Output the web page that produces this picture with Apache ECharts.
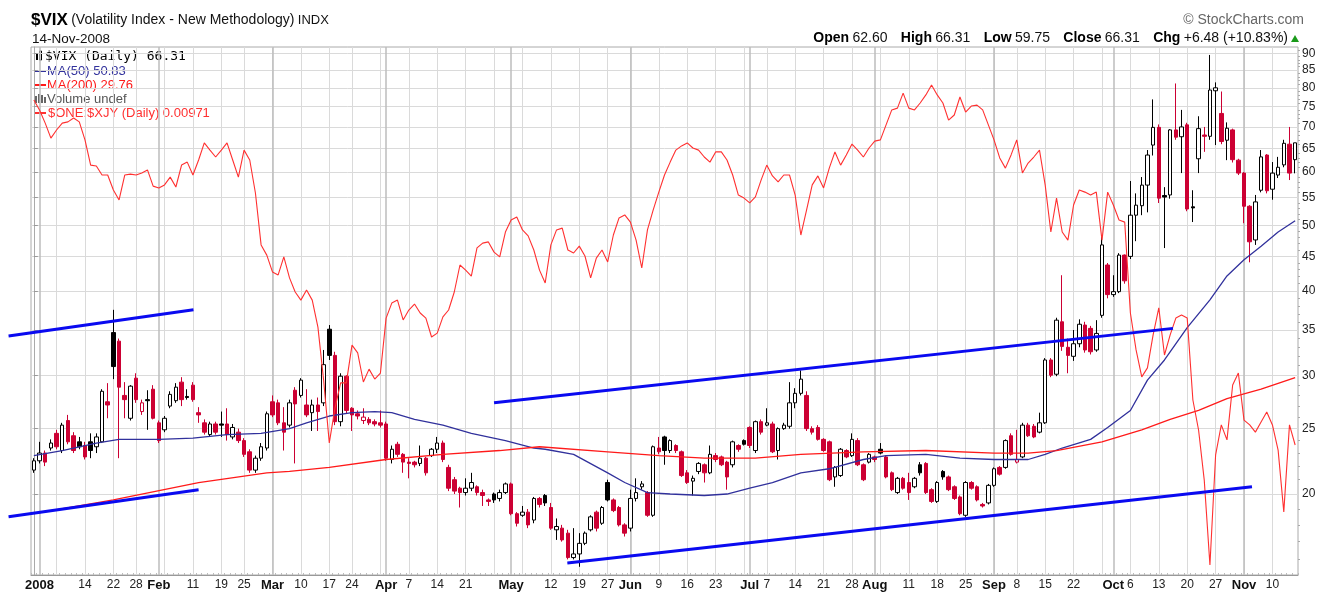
<!DOCTYPE html>
<html>
<head>
<meta charset="utf-8">
<title>$VIX daily 2008</title>
<script src="https://cdn.jsdelivr.net/npm/echarts@6/dist/echarts.min.js"></script>
<style>
html, body { margin: 0; padding: 0; background: #fff; }
#chart { width: 1323px; height: 592px; }
</style>
</head>
<body>
<div id="chart"></div>
<script>
// market holidays inside the range (no candle on these days)
const holidays = ['2008-01-01', '2008-01-21', '2008-02-18', '2008-03-21', '2008-05-26', '2008-07-04', '2008-09-01'];

// daily OHLC of $VIX, 2007-12-31 .. 2008-11-14
const openVals = [
  21.7,22.4,23.0,23.4,24.6,23.2,25.7,24.4,23.9,23.6, 23.9,23.5,23.9,27.4,34.7,33.7,28.0,25.9,29.7,26.5,
  27.6,28.6,25.5,24.9,27.0,27.5,29.3,27.9,29.0,26.4, 25.5,24.5,25.4,25.4,25.4,24.3,24.7,24.0,23.1,21.7,
  22.6,23.4,27.4,27.3,25.5,25.3,28.5,28.0,27.1,26.4, 27.1,27.3,35.1,32.1,25.6,29.9,26.8,26.3,25.7,25.8,
  25.6,25.5,25.4,22.5,23.7,22.9,22.3,22.3,22.2,22.6, 22.8,23.3,23.8,21.9,21.0,20.4,20.1,20.4,20.5,20.1,
  19.6,20.0,19.7,20.1,20.7,18.7,18.6,18.8,18.3,19.7, 19.9,19.1,17.7,17.8,17.5,16.1,16.3,16.9,17.7,18.8,
  18.1,20.8,19.6,19.1,18.0,17.8,19.7,20.5,20.1,18.6, 23.4,24.3,23.2,23.6,23.1,21.5,20.9,21.6,22.1,21.5,
  22.8,22.7,22.3,22.1,23.6,24.0,25.1,23.2,25.6,25.3, 25.4,23.2,25.0,25.2,27.3,28.2,28.0,25.0,25.1,24.1,
  23.9,21.2,21.3,23.2,22.8,24.0,22.1,22.3,22.7,23.3, 22.7,21.5,20.1,21.1,20.8,20.5,22.1,22.2,20.3,19.5,
  21.6,21.2,20.5,19.8,18.6,20.8,20.5,19.3,19.4,20.6, 21.9,21.9,24.4,22.3,22.7,25.3,25.2,24.7,25.5,31.6,
  30.1,36.0,33.0,32.0,33.4,35.6,35.2,32.7,36.8,43.7, 39.5,39.9,45.2,45.0,51.8,53.5,57.4,65.8,69.9,55.4,
  55.5,69.3,67.7,70.5,53.3,62.8,68.1,67.8,79.2,73.3, 66.9,69.3,62.5,59.8,53.4,47.6,56.4,63.6,56.6,59.4,
  61.5,66.0,62.60
];
const highVals = [
  22.6,23.9,23.2,24.1,24.9,25.5,26.2,24.7,24.3,23.9, 24.6,24.6,28.6,29.2,37.5,34.0,29.3,29.0,30.2,27.6,
  28.5,29.0,25.7,26.1,28.4,29.2,29.8,28.6,29.3,26.9, 25.8,25.6,25.6,26.5,26.8,25.4,25.0,24.2,23.3,22.8,
  23.8,26.5,28.0,27.6,26.9,27.6,28.8,29.7,28.6,27.6, 27.8,32.7,35.6,32.5,30.2,30.0,26.9,26.6,26.8,26.0,
  25.8,26.6,25.6,23.6,23.9,23.0,22.6,22.4,23.6,22.7, 23.4,24.3,24.0,22.1,21.2,20.5,21.1,21.5,20.6,20.3,
  19.7,20.1,20.3,20.8,20.8,18.8,19.2,19.0,19.8,19.8, 20.0,19.4,18.4,18.0,17.7,17.8,17.5,17.6,18.6,18.9,
  19.2,21.0,19.7,19.2,18.1,20.3,21.1,20.9,20.2,23.6, 24.3,24.4,24.1,23.7,23.2,21.7,21.3,22.3,22.2,23.6,
  23.0,22.8,22.4,24.0,23.7,24.1,25.2,25.7,25.8,26.8, 25.6,25.1,25.5,29.3,28.7,30.5,28.4,25.2,25.3,24.2,
  24.0,22.0,23.4,23.3,24.6,24.2,22.2,23.0,22.8,23.8, 22.8,21.6,21.2,21.2,21.5,21.2,22.3,22.3,20.4,20.9,
  21.7,21.3,20.6,19.9,20.9,20.9,20.6,19.4,20.7,21.9, 22.0,24.1,24.6,24.9,25.5,25.5,25.4,26.4,31.8,31.8,
  36.5,42.2,34.0,35.0,36.3,36.0,35.5,36.2,48.4,44.0, 42.2,45.5,45.3,58.2,55.8,59.0,64.7,76.9,70.6,57.0,
  69.5,81.2,74.2,71.0,56.4,72.6,70.0,89.5,81.5,79.0, 71.1,69.6,62.8,60.0,53.6,55.5,64.7,63.8,62.1,63.2,
  67.0,70.0,66.31
];
const lowVals = [
  21.5,22.2,22.0,23.2,23.3,23.0,23.7,23.0,23.3,22.5, 22.6,23.0,23.8,25.9,29.6,22.6,25.9,25.7,27.3,26.2,
  24.9,25.8,23.8,24.7,26.8,27.3,27.0,27.6,27.4,25.5, 24.5,24.3,24.5,24.3,24.0,24.1,23.8,22.7,21.5,21.5,
  22.4,23.2,26.0,25.3,23.2,25.1,22.2,27.8,26.0,24.8, 24.8,27.0,31.6,25.3,25.2,26.3,24.8,25.8,25.4,25.3,
  25.2,25.1,22.4,22.2,22.7,21.5,21.1,21.9,22.0,21.3, 22.7,23.0,22.3,20.2,20.0,19.1,19.9,20.2,19.9,19.2,
  19.2,19.4,19.5,20.0,18.6,17.9,18.5,17.8,18.1,19.1, 19.2,17.7,17.1,17.0,16.0,16.0,15.6,16.8,17.6,17.6,
  18.0,19.5,18.8,17.9,17.3,17.6,19.5,20.3,18.5,18.5, 22.9,22.1,23.0,23.0,21.2,20.7,19.9,21.4,20.8,21.4,
  22.3,22.0,20.3,21.9,23.1,23.6,23.4,23.0,24.5,25.2, 23.0,22.5,24.9,25.0,26.8,28.0,24.8,24.5,24.0,23.1,
  20.9,20.5,21.2,22.6,22.7,22.0,20.9,22.2,22.3,22.9, 21.1,20.2,20.0,20.3,19.6,20.4,21.3,20.0,19.4,19.4,
  21.0,20.2,19.6,18.6,18.5,20.3,19.5,19.1,19.3,20.5, 21.3,21.8,22.8,22.2,22.6,24.3,24.2,24.6,25.4,29.8,
  29.9,32.6,30.2,31.5,33.0,32.4,32.2,32.5,36.5,39.0, 39.2,39.7,41.0,44.6,47.4,51.8,52.3,63.5,54.0,46.3,
  54.8,67.0,59.8,52.5,50.6,59.8,64.3,67.0,65.8,66.0, 62.5,62.0,59.4,50.4,44.1,46.8,56.0,55.8,54.6,58.8,
  61.0,58.4,59.75
];
const closeVals = [
  22.4,23.0,22.3,23.8,23.5,25.3,23.9,23.2,23.5,22.7, 23.2,24.3,28.4,27.1,30.9,28.8,27.6,28.9,27.6,27.3,
  27.5,25.9,24.0,25.9,28.1,28.8,27.6,27.8,27.6,26.2, 24.7,25.4,24.7,25.3,24.5,25.1,24.0,22.9,21.7,22.6,
  23.5,26.3,26.2,25.5,24.7,27.3,27.2,29.5,26.2,27.1, 26.5,31.1,32.1,25.6,29.9,26.6,26.2,26.1,26.0,25.5,
  25.4,25.3,22.6,23.3,22.9,22.3,22.2,22.1,22.6,21.5, 23.3,23.8,22.5,20.4,20.2,20.1,20.4,20.8,20.1,19.9,
  19.5,19.6,20.1,20.7,18.7,18.1,18.8,18.0,19.7,19.3, 19.4,17.8,17.9,17.1,16.1,16.3,16.9,17.5,18.5,17.8,
  19.1,19.6,18.9,18.0,17.5,19.7,20.1,20.7,18.6,23.5, 23.1,23.2,24.0,23.2,21.3,20.8,21.1,22.2,21.5,22.9,
  22.5,22.1,21.2,23.9,23.3,23.7,23.6,25.6,24.7,25.5, 23.1,25.0,25.3,27.3,28.2,29.6,25.0,24.7,24.1,23.2,
  21.0,21.9,23.3,22.7,24.1,22.1,21.0,22.9,22.5,23.0, 21.2,20.3,21.1,20.4,20.1,21.1,21.5,20.1,19.5,20.8,
  21.2,20.3,19.7,18.7,20.8,20.4,19.6,19.2,20.6,21.8, 21.4,24.0,22.9,22.5,25.3,24.4,24.3,25.5,31.6,30.0,
  36.2,33.1,32.1,33.4,35.7,32.7,32.5,34.6,46.8,39.5, 39.9,45.2,41.4,51.8,53.6,57.4,63.6,69.9,54.9,55.1,
  69.3,67.6,70.0,52.9,53.1,69.6,67.8,79.4,80.0,66.6, 69.7,62.6,59.8,53.4,47.3,54.2,63.2,56.3,59.8,61.0,
  66.2,59.8,66.31
];

// moving averages, read at sample dates
const ma50Points = [
  ['2007-12-31',22.8],['2008-01-08',23.2],['2008-01-16',23.8],['2008-01-23',24.1],['2008-02-01',24.1],
  ['2008-02-11',24.2],['2008-02-20',24.5],['2008-02-28',24.6],['2008-03-06',25.0],['2008-03-11',25.5],
  ['2008-03-17',26.1],['2008-03-24',26.4],['2008-03-28',26.5],['2008-04-02',26.4],['2008-04-08',25.8],
  ['2008-04-15',25.3],['2008-04-22',24.6],['2008-04-30',24.0],['2008-05-07',23.4],['2008-05-09',23.3],
  ['2008-05-16',22.9],['2008-05-27',21.5],['2008-05-30',20.8],['2008-06-05',20.1],['2008-06-11',20.0],
  ['2008-06-19',19.9],['2008-06-25',20.0],['2008-07-01',20.4],['2008-07-08',20.8],['2008-07-15',21.5],
  ['2008-07-22',21.8],['2008-07-30',22.5],['2008-08-05',22.8],['2008-08-14',22.9],['2008-08-22',22.6],
  ['2008-09-02',22.5],['2008-09-10',22.5],['2008-09-15',22.9],['2008-09-18',23.4],['2008-09-25',24.1],
  ['2008-09-30',25.1],['2008-10-06',26.6],['2008-10-09',29.5],['2008-10-14',31.6],['2008-10-20',35.3],
  ['2008-10-24',38.8],['2008-10-29',42.1],['2008-11-03',44.5],['2008-11-06',46.6],['2008-11-11',48.9],
  ['2008-11-14',50.83]
];
const ma200Points = [
  ['2007-12-31',18.7],['2008-01-22',19.6],['2008-02-12',20.8],['2008-02-29',21.5],['2008-03-06',21.6],
  ['2008-03-17',21.9],['2008-04-01',22.5],['2008-04-15',22.9],['2008-04-29',23.2],['2008-05-08',23.5],
  ['2008-05-27',23.1],['2008-06-09',22.8],['2008-06-19',22.6],['2008-07-02',22.6],['2008-07-15',22.9],
  ['2008-07-30',23.1],['2008-08-14',23.2],['2008-09-02',23.0],['2008-09-10',23.0],['2008-09-17',23.2],
  ['2008-09-29',23.9],['2008-10-08',24.9],['2008-10-15',25.8],['2008-10-22',26.6],['2008-10-29',27.7],
  ['2008-11-06',28.6],['2008-11-14',29.76]
];

// $ONE:$XJY daily (own hidden scale)
const xjyVals = [
  0.010860,0.010827,0.010783,0.010733,0.010760,0.010783,0.010787,0.010800,0.010787,0.010727,
  0.010643,0.010640,0.010610,0.010610,0.010560,0.010527,0.010610,0.010613,0.010610,0.010617,
  0.010627,0.010573,0.010567,0.010577,0.010603,0.010570,0.010643,0.010653,0.010610,0.010660,
  0.010717,0.010693,0.010670,0.010693,0.010717,0.010660,0.010603,0.010693,0.010660,0.010550,
  0.010377,0.010343,0.010287,0.010277,0.010337,0.010267,0.010220,0.010193,0.010227,0.010193,
  0.010103,0.009927,0.009717,0.009833,0.009917,0.009917,0.010043,0.010017,0.009920,0.009963,
  0.009930,0.009950,0.010133,0.010183,0.010193,0.010127,0.010160,0.010180,0.010150,0.010133,
  0.010070,0.010083,0.010137,0.010160,0.010220,0.010310,0.010293,0.010273,0.010367,0.010383,
  0.010387,0.010353,0.010337,0.010420,0.010460,0.010470,0.010427,0.010407,0.010360,0.010293,
  0.010250,0.010377,0.010427,0.010433,0.010360,0.010350,0.010373,0.010340,0.010267,0.010333,
  0.010360,0.010320,0.010410,0.010467,0.010477,0.010453,0.010393,0.010300,0.010427,0.010493,
  0.010553,0.010610,0.010653,0.010693,0.010707,0.010717,0.010700,0.010693,0.010670,0.010653,
  0.010687,0.010687,0.010660,0.010610,0.010543,0.010533,0.010517,0.010537,0.010593,0.010643,
  0.010607,0.010587,0.010610,0.010610,0.010543,0.010410,0.010493,0.010577,0.010607,0.010567,
  0.010633,0.010687,0.010643,0.010677,0.010713,0.010693,0.010670,0.010700,0.010723,0.010727,
  0.010777,0.010827,0.010833,0.010883,0.010833,0.010827,0.010850,0.010877,0.010910,0.010877,
  0.010850,0.010793,0.010810,0.010870,0.010820,0.010840,0.010843,0.010827,0.010777,0.010727,
  0.010667,0.010633,0.010677,0.010727,0.010617,0.010650,0.010670,0.010693,0.010577,0.010420,
  0.010533,0.010420,0.010393,0.010510,0.010560,0.010553,0.010543,0.010553,0.010393,0.010553,
  0.010510,0.010460,0.010453,0.010150,0.010027,0.009937,0.009967,0.010077,0.010167,0.010010,
  0.010077,0.010133,0.010143,0.010133,0.009860,0.009760,0.009593,0.009310,0.009677,0.009777,
  0.009727,0.009910,0.009950,0.009793,0.009777,0.009753,0.009787,0.009820,0.009777,0.009693,
  0.009487,0.009777,0.009710
];

// hand drawn trend lines: [day index, value] end points
const trendLines = [
  [[-4.45, 34.3], [28.1, 37.5]],
  [[-4.45, 18.5], [29.0, 20.3]],
  [[81.0, 27.3], [200.5, 35.2]],
  [[93.9, 15.8], [214.4, 20.5]]
];

const yTicks = [20, 25, 30, 35, 40, 45, 50, 55, 60, 65, 70, 75, 80, 85, 90];
const xTickDates = ['2008-01-02','2008-01-14','2008-01-22','2008-01-28','2008-02-01','2008-02-11','2008-02-19',
  '2008-02-25','2008-03-03','2008-03-10','2008-03-17','2008-03-24','2008-04-01','2008-04-07','2008-04-14',
  '2008-04-21','2008-05-01','2008-05-12','2008-05-19','2008-05-27','2008-06-02','2008-06-09','2008-06-16',
  '2008-06-23','2008-07-01','2008-07-07','2008-07-14','2008-07-21','2008-07-28','2008-08-01','2008-08-11',
  '2008-08-18','2008-08-25','2008-09-02','2008-09-08','2008-09-15','2008-09-22','2008-10-01','2008-10-06',
  '2008-10-13','2008-10-20','2008-10-27','2008-11-03','2008-11-10'];
const monthNames = ['Jan','Feb','Mar','Apr','May','Jun','Jul','Aug','Sep','Oct','Nov','Dec'];

const yMin = 15.17, yMax = 91.96;
const xjyMin = 0.0092767, xjyMax = 0.0110367;
const RED = '#cc0033';
const GRID_LEFT = 31, GRID_RIGHT = 25, GRID_TOP = 47, GRID_BOTTOM = 17, WIDTH = 1323;

function tradingDays(from, to) {
  const out = [];
  const d = new Date(from + 'T00:00:00Z');
  const end = new Date(to + 'T00:00:00Z').getTime();
  while (d.getTime() <= end) {
    const s = d.toISOString().slice(0, 10);
    const wd = d.getUTCDay();
    if (wd !== 0 && wd !== 6 && holidays.indexOf(s) < 0) out.push(s);
    d.setUTCDate(d.getUTCDate() + 1);
  }
  return out;
}
const dates = tradingDays('2007-12-31', '2008-11-14');
const n = dates.length;
const band = (WIDTH - GRID_LEFT - GRID_RIGHT) / n;

function weekKey(s) {
  const d = new Date(s + 'T00:00:00Z');
  d.setUTCDate(d.getUTCDate() - ((d.getUTCDay() + 6) % 7));
  return d.toISOString().slice(0, 10);
}
const isWeekStart = i => i === 0 || weekKey(dates[i]) !== weekKey(dates[i - 1]);
const isMonthStart = i => i > 0 && dates[i].slice(5, 7) !== dates[i - 1].slice(5, 7);

const candleData = dates.map((d, i) => {
  const o = openVals[i], c = closeVals[i];
  const up = i === 0 || c >= closeVals[i - 1];
  const edge = up ? '#000' : RED;
  const body = c > o ? '#fff' : edge;
  return {
    value: [Math.log(o), Math.log(c), Math.log(lowVals[i]), Math.log(highVals[i])],
    itemStyle: { color: body, color0: body, borderColor: edge, borderColor0: edge, borderWidth: 1 }
  };
});

const halfSlots = Array.from({ length: 2 * n + 1 }, (_, k) => String(k));
function gridAxis(test, color, width) {
  return {
    type: 'category', data: halfSlots, boundaryGap: false, position: 'bottom',
    axisLine: { show: false }, axisTick: { show: false }, axisLabel: { show: false },
    splitLine: { show: true, interval: k => k % 2 === 1 && test((k - 1) / 2), lineStyle: { color: color, width: width } }
  };
}

const minorTicks = [];
for (let v = 16; v <= 91; v++) if (yTicks.indexOf(v) < 0) minorTicks.push(Math.log(v));

const font = 'Liberation Sans, Arial, sans-serif';
const chart = echarts.init(document.getElementById('chart'));

// trend lines live in a second, wider grid so they can run into the left margin
const trendSeries = trendLines.map(seg => ({
  type: 'line', xAxisIndex: 4, yAxisIndex: 3, symbol: 'none', silent: true, z: 6,
  lineStyle: { color: '#0a0af0', width: 3 },
  data: seg.map(p => [p[0], Math.log(p[1])])
}));

chart.setOption({
  animation: false,
  backgroundColor: '#fff',
  grid: [
    { left: GRID_LEFT, right: GRID_RIGHT, top: GRID_TOP, bottom: GRID_BOTTOM, show: true, borderColor: '#aaa', borderWidth: 1 },
    { left: 0, right: GRID_RIGHT, top: GRID_TOP, bottom: GRID_BOTTOM, show: false }
  ],
  xAxis: [
    {
      type: 'category', data: dates, boundaryGap: true,
      axisLine: { lineStyle: { color: '#999' } },
      axisTick: { show: true, interval: 0, inside: true, length: 2, lineStyle: { color: '#bbb' } },
      splitLine: { show: false },
      axisLabel: {
        interval: (idx, val) => xTickDates.indexOf(val) >= 0,
        margin: 4,
        color: '#111',
        formatter: val => {
          const i = dates.indexOf(val);
          if (isMonthStart(i)) {
            const m = +val.slice(5, 7) - 1;
            return '{m|' + (m === 0 ? val.slice(0, 4) : monthNames[m]) + '}';
          }
          return '{d|' + (+val.slice(8, 10)) + '}';
        },
        rich: {
          m: { fontFamily: font, fontWeight: 'bold', fontSize: 13, color: '#111' },
          d: { fontFamily: font, fontSize: 12, color: '#222' }
        }
      }
    },
    { type: 'value', min: -0.5, max: n - 0.5, show: false },
    gridAxis(isWeekStart, '#dadada', 1),
    gridAxis(isMonthStart, '#bdbdbd', 1.5),
    { type: 'value', gridIndex: 1, min: -0.5 - GRID_LEFT / band, max: n - 0.5, show: false }
  ],
  yAxis: [
    {
      type: 'value', position: 'right', min: Math.log(yMin), max: Math.log(yMax),
      axisLine: { show: true, lineStyle: { color: '#aaa' } },
      axisTick: { show: true, length: 4, customValues: yTicks.map(Math.log), lineStyle: { color: '#999' } },
      axisLabel: {
        customValues: yTicks.map(Math.log), margin: 4,
        formatter: v => String(Math.round(Math.exp(v))),
        fontFamily: font, fontSize: 12, color: '#222'
      },
      splitLine: { show: true, lineStyle: { color: '#dadada' } }
    },
    {
      type: 'value', position: 'right', min: Math.log(yMin), max: Math.log(yMax),
      axisLine: { show: false }, axisLabel: { show: false }, splitLine: { show: false },
      axisTick: { show: true, length: 2, customValues: minorTicks, lineStyle: { color: '#aaa' } }
    },
    { type: 'value', min: xjyMin, max: xjyMax, show: false },
    { type: 'value', gridIndex: 1, min: Math.log(yMin), max: Math.log(yMax), show: false }
  ],
  series: [
    {
      name: '$VIX', type: 'candlestick', xAxisIndex: 0, yAxisIndex: 0, barWidth: 4, z: 3,
      data: candleData
    },
    {
      name: 'MA(50)', type: 'line', xAxisIndex: 0, yAxisIndex: 0, symbol: 'none', connectNulls: true, z: 4,
      lineStyle: { color: '#31319c', width: 1.3 },
      data: ma50Points.map(p => [p[0], Math.log(p[1])])
    },
    {
      name: 'MA(200)', type: 'line', xAxisIndex: 0, yAxisIndex: 0, symbol: 'none', connectNulls: true, z: 4,
      lineStyle: { color: '#ff1a1a', width: 1.3 },
      data: ma200Points.map(p => [p[0], Math.log(p[1])])
    },
    {
      name: '$ONE:$XJY', type: 'line', xAxisIndex: 0, yAxisIndex: 2, symbol: 'none', z: 5,
      lineStyle: { color: '#ff3030', width: 1.1 },
      data: xjyVals
    }
  ].concat(trendSeries),
  graphic: [
    { type: 'text', x: 31, y: 20, style: {
      text: '{a|$VIX} {b|(Volatility Index - New Methodology)} {c|INDX}', textVerticalAlign: 'middle',
      rich: {
        a: { fontFamily: font, fontWeight: 'bold', fontSize: 17, fill: '#000' },
        b: { fontFamily: font, fontSize: 14, fill: '#111' },
        c: { fontFamily: font, fontSize: 13, fill: '#111' }
      } } },
    { type: 'text', x: 32, y: 39, style: { text: '14-Nov-2008', font: '13.5px ' + font, fill: '#111', textVerticalAlign: 'middle' } },
    { type: 'text', x: 1304, y: 20, style: { text: '\u00a9 StockCharts.com', font: '14px ' + font, fill: '#666', textAlign: 'right', textVerticalAlign: 'middle' } },
    { type: 'text', x: 1288, y: 38, style: {
      text: '{l|Open} {v|62.60}    {l|High} {v|66.31}    {l|Low} {v|59.75}    {l|Close} {v|66.31}    {l|Chg} {v|+6.48 (+10.83%)}',
      textAlign: 'right', textVerticalAlign: 'middle',
      rich: {
        l: { fontFamily: font, fontWeight: 'bold', fontSize: 14, fill: '#000' },
        v: { fontFamily: font, fontSize: 14, fill: '#111' }
      } } },
    { type: 'polygon', shape: { points: [[1291, 42], [1299, 42], [1295, 35]] }, style: { fill: '#1a9a1a' } },

    // legend inside the plot
    { type: 'rect', shape: { x: 36, y: 53, width: 2, height: 7 }, style: { fill: '#000' } },
    { type: 'rect', shape: { x: 39.5, y: 51, width: 2, height: 9 }, style: { fill: '#fff', stroke: '#000', lineWidth: 1 } },
    { type: 'text', x: 45, y: 57, style: { text: '$VIX (Daily) 66.31', font: '13px DejaVu Sans Mono, monospace', fill: '#000', textVerticalAlign: 'middle' } },
    { type: 'rect', shape: { x: 35, y: 70, width: 11, height: 2 }, style: { fill: '#31319c' } },
    { type: 'text', x: 47, y: 71, style: { text: 'MA(50) 50.83', font: '13px ' + font, fill: '#31319c', textVerticalAlign: 'middle' } },
    { type: 'rect', shape: { x: 35, y: 84, width: 11, height: 2 }, style: { fill: '#ff1a1a' } },
    { type: 'text', x: 47, y: 85, style: { text: 'MA(200) 29.76', font: '13px ' + font, fill: '#ff1a1a', textVerticalAlign: 'middle' } },
    { type: 'rect', shape: { x: 35, y: 96, width: 2, height: 7 }, style: { fill: '#666' } },
    { type: 'rect', shape: { x: 38, y: 94, width: 2, height: 9 }, style: { fill: '#666' } },
    { type: 'rect', shape: { x: 41, y: 95, width: 2, height: 8 }, style: { fill: '#666' } },
    { type: 'rect', shape: { x: 44, y: 97, width: 2, height: 6 }, style: { fill: '#666' } },
    { type: 'text', x: 47, y: 99, style: { text: 'Volume undef', font: '13px ' + font, fill: '#555', textVerticalAlign: 'middle' } },
    { type: 'rect', shape: { x: 35, y: 112, width: 11, height: 2 }, style: { fill: '#ff3030' } },
    { type: 'text', x: 48, y: 113, style: { text: '$ONE:$XJY (Daily) 0.00971', font: '13px ' + font, fill: '#ff3030', textVerticalAlign: 'middle' } }
  ]
});
</script>
</body>
</html>
